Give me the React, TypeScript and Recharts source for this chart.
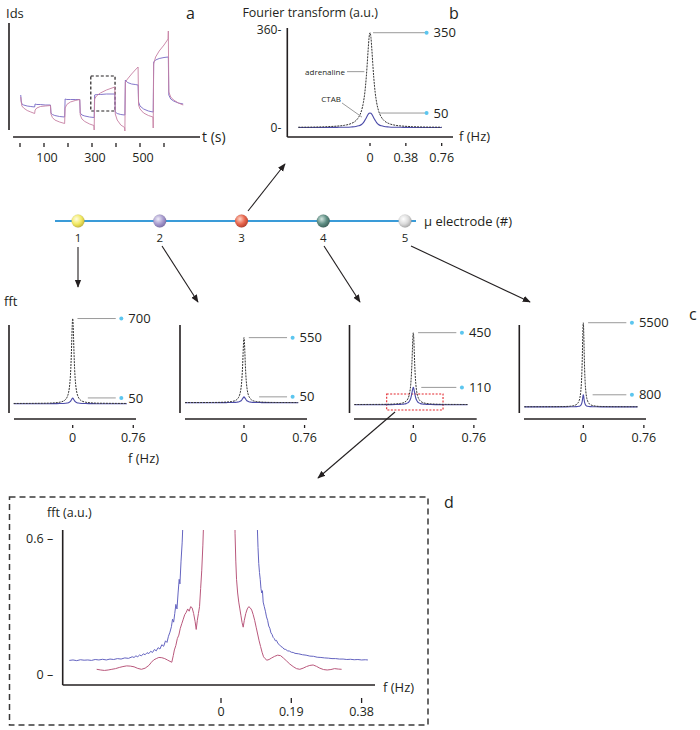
import React from "react";
import {
  LineChart,
  Line,
  XAxis,
  YAxis,
  ReferenceLine,
  ReferenceArea,
  ReferenceDot,
  ScatterChart,
  Scatter,
} from "recharts";

const W = 700;
const H = 730;
const XH = 30;
const YW = 1;
const FONT = "'Open Sans', 'DejaVu Sans', sans-serif";
const INK = "#231f20";
const LEADER = "#9a9a9a";
const DOT = "#5cc6ef";

// ---- panel a: Ids vs time
const A_T = [3, 5, 8, 15, 30, 45, 61, 63, 70, 85, 105, 127, 129, 135, 145, 165, 186, 188, 195, 210, 230, 249, 251, 258, 270, 290, 308, 309, 311, 318, 335, 360, 395, 397, 405, 420, 436, 437, 439, 448, 465, 480, 492, 494, 500, 515, 535, 554, 555, 557, 565, 580, 600, 617, 618, 620, 628, 640, 660, 680];
const A_BLUE = [35, 29, 26, 25, 24, 23.5, 23, 26, 25.5, 25.5, 25, 25, 17, 15.5, 14.5, 13.5, 13, 31, 30.5, 30.5, 30.5, 30.5, 17, 15, 14, 13, 12.5, 12.5, 35, 35.5, 35.5, 36, 36, 18, 16.5, 15.5, 15, 15, 50, 47.5, 46, 45.5, 45, 28, 24, 21, 19, 18, 18, 68, 70, 71.5, 72.5, 73, 73, 35, 31, 29, 27, 26];
const A_RED = [33, 28, 24, 22, 19.5, 18, 16.5, 20, 22, 23.5, 24, 24.5, 16, 12.5, 10, 8, 6.5, 22, 25.5, 28, 29.5, 30.5, 15, 11, 8.5, 6, 4.5, 0, 31, 34, 37, 40, 43, 16, 10, 5, 2.5, -1, 48, 51, 56, 60, 63, 25, 21, 17, 14.5, 13, 2, 66, 73, 79, 85, 91, 99, 38, 33, 30, 27, 25];
const A_TICKS = [0, 100, 200, 300, 400, 500, 600];
const A_TICK_LABELS = ["", "100", "", "300", "", "500", ""];
const A_BOX = { t1: 295, t2: 396, v1: 19, v2: 54 };

// ---- panel b: Fourier transform, electrode 3
const B_F = [-0.76, -0.6, -0.45, -0.35, -0.27, -0.2, -0.15, -0.12, -0.09, -0.07, -0.055, -0.04, -0.03, -0.02, -0.01, -0.005, 0, 0.005, 0.01, 0.02, 0.03, 0.04, 0.055, 0.07, 0.09, 0.12, 0.15, 0.2, 0.27, 0.35, 0.45, 0.6, 0.76];
const B_ADREN = [3, 3.5, 5, 7, 10, 16.5, 27, 40, 64, 94, 130, 185, 233, 286, 332, 345, 350, 345, 332, 286, 233, 185, 130, 94, 64, 40, 27, 16.5, 10, 7, 5, 3.5, 3];
const B_CTAB = [2, 2, 2, 2.5, 3, 4, 5.5, 8, 13, 20, 28, 37, 44, 50, 54, 54.5, 55, 54.5, 54, 50, 44, 37, 28, 20, 13, 8, 5.5, 4, 3, 2.5, 2, 2, 2];
const B_LABELS = ["350", "50"];
const B_YTICKS = [0, 360];
const B_YTICK_LABELS = ["0-", "360-"];
const B_TICKS = [0, 0.38, 0.76];
const B_TICK_LABELS = ["0", "0.38", "0.76"];

// ---- electrodes
const E_N = [1, 2, 3, 4, 5];
const E_LABELS = ["1", "2", "3", "4", "5"];

// ---- panels c: fft per electrode
const C_F = [-0.74, -0.55, -0.4, -0.3, -0.22, -0.16, -0.12, -0.09, -0.07, -0.055, -0.042, -0.032, -0.024, -0.017, -0.011, -0.006, -0.003, 0, 0.003, 0.006, 0.011, 0.017, 0.024, 0.032, 0.042, 0.055, 0.07, 0.09, 0.12, 0.16, 0.22, 0.3, 0.4, 0.55, 0.68];
const C1_BLACK = [4.6, 5, 6, 7, 10, 15, 23, 37, 57, 86, 133, 201, 291, 410, 541, 646, 689, 704, 689, 646, 541, 410, 291, 201, 133, 86, 57, 37, 23, 15, 10, 7, 6, 5, 4.6];
const C1_BLUE = [2, 2, 2, 2.5, 3, 3.5, 4.5, 6, 8, 11, 15, 20, 26, 33, 40, 46, 49, 50, 49, 46, 40, 33, 26, 20, 15, 11, 8, 6, 4.5, 3.5, 3, 2.5, 2, 2, 2];
const C2_BLACK = [3.6, 4, 4.5, 5.5, 8, 12, 18, 29, 45, 68, 105, 158, 229, 322, 425, 508, 541, 553, 541, 508, 425, 322, 229, 158, 105, 68, 45, 29, 18, 12, 8, 5.5, 4.5, 4, 3.6];
const C2_BLUE = [2, 2, 2.5, 3, 3.5, 4, 5, 7, 9, 12, 17, 23, 30, 37, 43, 48, 51, 52, 51, 48, 43, 37, 30, 23, 17, 12, 9, 7, 5, 4, 3.5, 3, 2.5, 2, 2];
const C3_BLACK = [3, 3.5, 4, 5, 7, 10, 15, 24, 37, 56, 86, 130, 188, 264, 348, 415, 442, 452, 442, 415, 348, 264, 188, 130, 86, 56, 37, 24, 15, 10, 7, 5, 4, 3.5, 3];
const C3_BLUE = [2, 2, 2, 2.5, 3, 4, 5.5, 8.5, 13, 20, 30, 42, 58, 76, 92, 103, 108, 110, 108, 103, 92, 76, 58, 42, 30, 20, 13, 8.5, 5.5, 4, 3, 2.5, 2, 2, 2];
const C4_BLACK = [17, 18, 20, 25, 35, 55, 90, 150, 240, 380, 620, 1000, 1560, 2410, 3600, 4760, 5300, 5520, 5300, 4760, 3600, 2410, 1560, 1000, 620, 380, 240, 150, 90, 55, 35, 25, 20, 18, 17];
const C4_BLUE = [10, 10, 10, 10, 11, 13, 16, 22, 30, 45, 70, 110, 180, 290, 450, 650, 760, 800, 760, 650, 450, 290, 180, 110, 70, 45, 30, 22, 16, 13, 11, 10, 10, 10, 10];
const C_LABELS = [["700", "50"], ["550", "50"], ["450", "110"], ["5500", "800"]];
const C_TICKS = [0, 0.76];
const C_TICK_LABELS = ["0", "0.76"];
const C_BOX = { f1: -0.334, f2: 0.373, v1: -31, v2: 69 }; // zoom window on electrode 4

// ---- panel d: zoomed fft
const D_BLUE_F = [-0.41, -0.40, -0.39, -0.38, -0.37, -0.36, -0.35, -0.34, -0.33, -0.32, -0.31, -0.30, -0.29, -0.28, -0.27, -0.26, -0.25, -0.24, -0.235, -0.23, -0.225, -0.22, -0.215, -0.21, -0.205, -0.20, -0.195, -0.19, -0.185, -0.18, -0.175, -0.17, -0.165, -0.16, -0.155, -0.15, -0.146, -0.142, -0.138, -0.134, -0.131, -0.128, -0.125, -0.122, -0.119, -0.116, -0.113, -0.111, -0.108, -0.105, -0.102, -0.099, 0, 0.095, 0.098, 0.100, 0.102, 0.104, 0.106, 0.108, 0.110, 0.112, 0.114, 0.117, 0.120, 0.123, 0.126, 0.129, 0.132, 0.135, 0.138, 0.141, 0.144, 0.147, 0.150, 0.154, 0.158, 0.162, 0.166, 0.170, 0.175, 0.180, 0.185, 0.19, 0.195, 0.20, 0.21, 0.22, 0.23, 0.24, 0.25, 0.26, 0.27, 0.28, 0.29, 0.30, 0.31, 0.32, 0.33, 0.34, 0.35, 0.36, 0.37, 0.38, 0.39, 0.397];
const D_BLUE = [0.064, 0.066, 0.063, 0.067, 0.065, 0.066, 0.064, 0.068, 0.066, 0.069, 0.066, 0.070, 0.068, 0.072, 0.070, 0.075, 0.073, 0.080, 0.077, 0.084, 0.080, 0.088, 0.084, 0.093, 0.089, 0.098, 0.094, 0.104, 0.099, 0.112, 0.106, 0.120, 0.114, 0.133, 0.126, 0.150, 0.143, 0.170, 0.188, 0.212, 0.245, 0.232, 0.27, 0.31, 0.29, 0.36, 0.42, 0.40, 0.50, 0.58, 0.70, 0.88, null, 0.88, 0.66, 0.56, 0.49, 0.45, 0.42, 0.38, 0.36, 0.37, 0.32, 0.30, 0.28, 0.255, 0.24, 0.215, 0.205, 0.185, 0.178, 0.165, 0.16, 0.15, 0.152, 0.138, 0.133, 0.125, 0.122, 0.114, 0.112, 0.106, 0.105, 0.100, 0.099, 0.095, 0.093, 0.089, 0.087, 0.083, 0.082, 0.078, 0.077, 0.075, 0.074, 0.072, 0.072, 0.070, 0.070, 0.068, 0.069, 0.067, 0.068, 0.066, 0.067, 0.066];
const D_RED_F = [-0.336, -0.325, -0.315, -0.305, -0.295, -0.285, -0.275, -0.265, -0.255, -0.245, -0.235, -0.225, -0.215, -0.205, -0.195, -0.188, -0.182, -0.175, -0.168, -0.160, -0.152, -0.145, -0.138, -0.133, -0.129, -0.126, -0.122, -0.118, -0.114, -0.110, -0.106, -0.102, -0.098, -0.094, -0.090, -0.086, -0.082, -0.078, -0.074, -0.070, -0.067, -0.064, -0.061, -0.058, -0.055, -0.052, -0.049, -0.046, -0.044, 0, 0.036, 0.038, 0.040, 0.042, 0.045, 0.048, 0.051, 0.054, 0.057, 0.060, 0.063, 0.067, 0.071, 0.075, 0.079, 0.083, 0.087, 0.091, 0.095, 0.099, 0.103, 0.107, 0.111, 0.115, 0.119, 0.124, 0.130, 0.137, 0.145, 0.153, 0.161, 0.169, 0.177, 0.186, 0.195, 0.204, 0.213, 0.222, 0.231, 0.240, 0.249, 0.258, 0.267, 0.277, 0.287, 0.297, 0.307, 0.317, 0.326];
const D_RED = [0.025, 0.022, 0.020, 0.022, 0.025, 0.028, 0.033, 0.037, 0.040, 0.039, 0.036, 0.029, 0.025, 0.030, 0.042, 0.056, 0.066, 0.072, 0.077, 0.076, 0.072, 0.066, 0.060, 0.056, 0.085, 0.11, 0.13, 0.16, 0.175, 0.205, 0.225, 0.245, 0.265, 0.275, 0.29, 0.28, 0.30, 0.295, 0.27, 0.235, 0.20, 0.24, 0.27, 0.30, 0.38, 0.46, 0.57, 0.72, 0.88, null, 0.88, 0.62, 0.50, 0.42, 0.36, 0.32, 0.29, 0.26, 0.23, 0.21, 0.24, 0.27, 0.29, 0.30, 0.295, 0.285, 0.265, 0.24, 0.21, 0.18, 0.15, 0.125, 0.10, 0.08, 0.072, 0.065, 0.068, 0.075, 0.082, 0.087, 0.085, 0.074, 0.062, 0.048, 0.037, 0.028, 0.025, 0.030, 0.037, 0.042, 0.044, 0.038, 0.030, 0.024, 0.022, 0.024, 0.028, 0.026, 0.025];
const D_TICKS = [0, 0.19, 0.38];
const D_TICK_LABELS = ["0", "0.19", "0.38"];
const D_YTICKS = [0, 0.6];
const D_YTICK_LABELS = ["0 \u2013", "0.6 \u2013"];

// ---- layout (pixels)
const PX_F = 79.7; // px per Hz in the small fft panels
const C_LAYOUT = [
  { yx: 9, zx: 72.7, ax0: 14, ax1: 136, base: 404, ppu: 0.1214, lowStart: 0.19 },
  { yx: 180, zx: 244, ax0: 185, ax1: 307, base: 403, ppu: 0.1182, lowStart: 0.19 },
  { yx: 349.5, zx: 413.3, ax0: 354, ax1: 476.7, base: 405, ppu: 0.16, lowStart: 0.1 },
  { yx: 519.3, zx: 583.3, ax0: 524, ax1: 646, base: 407, ppu: 0.01527, lowStart: 0.117 },
];
const C_SERIES = [
  [C1_BLACK, C1_BLUE],
  [C2_BLACK, C2_BLUE],
  [C3_BLACK, C3_BLUE],
  [C4_BLACK, C4_BLUE],
];
const BEAD_COLORS = [
  ["#fffde2", "#f2ea66", "#c4b536"],
  ["#f1eef9", "#a99dcf", "#7a6da6"],
  ["#ffd6c8", "#e8674e", "#b03d2c"],
  ["#d4e6e0", "#5f8f84", "#3a5e57"],
  ["#ffffff", "#dcdcdc", "#a6a6a6"],
];

// plot rect in page pixels -> chart margins (y axis is YW wide, x axis XH tall)
const margins = (l: number, t: number, r: number, b: number) => ({
  left: l - YW,
  top: t,
  right: W - r,
  bottom: H - b - XH,
});

const Layer = ({ children }: { children: React.ReactNode }) => (
  <div style={{ position: "absolute", left: 0, top: 0 }}>{children}</div>
);

function bottomTick(ticks: number[], labels: string[], gap: number, len: number, dy: number, dx = 0, size = 12.5) {
  return (props: any) => {
    const { x, y, payload } = props;
    const s = labels[ticks.indexOf(payload.value)];
    return (
      <g>
        {len > 0 && <line x1={x} x2={x} y1={y + gap} y2={y + gap + len} stroke={INK} strokeWidth={1.3} />}
        {s ? (
          <text x={x + dx} y={y + dy} textAnchor="middle" fontSize={size} fontFamily={FONT} fill={INK}>
            {s}
          </text>
        ) : null}
      </g>
    );
  };
}

function leftTick(ticks: number[], labels: string[], dx: number, size = 12.5) {
  return (props: any) => {
    const { x, y, payload } = props;
    const s = labels[ticks.indexOf(payload.value)];
    return (
      <text x={x - dx} y={y} dy="0.35em" textAnchor="end" fontSize={size} fontFamily={FONT} fill={INK}>
        {s}
      </text>
    );
  };
}

const valueLabel = (value: string) => ({
  value,
  position: "right" as const,
  offset: 5,
  fill: INK,
  fontSize: 13,
  fontFamily: FONT,
});

const hiddenY = (domain: number[]) => (
  <YAxis type="number" domain={domain} allowDataOverflow width={YW} tick={false} axisLine={false} tickLine={false} />
);

function PanelA() {
  const data = A_T.map((t, i) => ({ t, blue: A_BLUE[i], red: A_RED[i] }));
  const x0 = (9 - 20) / 0.24;
  const x1 = (200 - 20) / 0.24;
  return (
    <Layer>
      <LineChart width={W} height={H} data={data} margin={margins(9, 23, 200, 137)}>
        <XAxis
          dataKey="t"
          type="number"
          domain={[x0, x1]}
          ticks={A_TICKS}
          interval={0}
          axisLine={false}
          tickLine={false}
          tickSize={0}
          tickMargin={0}
          height={XH}
          tick={bottomTick(A_TICKS, A_TICK_LABELS, 6, 4, 25, 3)}
        />
        {hiddenY([-7, 107])}
        <ReferenceLine ifOverflow="visible" segment={[{ x: x0, y: 0 }, { x: x0, y: 107 }]} stroke={INK} strokeWidth={1.6} />
        <ReferenceLine ifOverflow="visible" segment={[{ x: -29, y: -7 }, { x: x1, y: -7 }]} stroke={INK} strokeWidth={1.6} />
        <Line dataKey="blue" type="linear" stroke="#7668c4" strokeWidth={0.9} dot={false} activeDot={false} isAnimationActive={false} />
        <Line dataKey="red" type="linear" stroke="#c67fa3" strokeWidth={0.9} dot={false} activeDot={false} isAnimationActive={false} />
        <ReferenceArea
          x1={A_BOX.t1}
          x2={A_BOX.t2}
          y1={A_BOX.v1}
          y2={A_BOX.v2}
          fill="none"
          fillOpacity={0}
          stroke={INK}
          strokeWidth={1.2}
          strokeDasharray="3 2"
        />
      </LineChart>
    </Layer>
  );
}

function PanelB() {
  const data = B_F.map((f, i) => ({ f, adr: B_ADREN[i], ctab: B_CTAB[i] }));
  const x0 = -0.877;
  const x1 = 0.88;
  const y0 = -33;
  const y1 = 367.3;
  const top = Math.max(...B_ADREN);
  const low = Math.max(...B_CTAB);
  return (
    <Layer>
      <LineChart width={W} height={H} data={data} margin={margins(287.3, 28, 453, 137)}>
        <XAxis
          dataKey="f"
          type="number"
          domain={[x0, x1]}
          ticks={B_TICKS}
          interval={0}
          axisLine={false}
          tickLine={false}
          tickSize={0}
          tickMargin={0}
          height={XH}
          tick={bottomTick(B_TICKS, B_TICK_LABELS, 6, 3, 25)}
        />
        <YAxis
          type="number"
          domain={[y0, y1]}
          width={YW}
          ticks={B_YTICKS}
          interval={0}
          tick={leftTick(B_YTICKS, B_YTICK_LABELS, 6, 12)}
          axisLine={false}
          tickLine={false}
          tickSize={0}
          tickMargin={0}
        />
        <ReferenceLine ifOverflow="visible" segment={[{ x: x0, y: y0 }, { x: x0, y: y1 }]} stroke={INK} strokeWidth={1.6} />
        <ReferenceLine ifOverflow="visible" segment={[{ x: x0, y: y0 }, { x: x1, y: y0 }]} stroke={INK} strokeWidth={1.6} />
        <Line dataKey="ctab" type="monotone" stroke="#4b4ba8" strokeWidth={1.1} dot={false} activeDot={false} isAnimationActive={false} />
        <Line dataKey="adr" type="monotone" stroke="#333" strokeWidth={1} strokeDasharray="2 1" dot={false} activeDot={false} isAnimationActive={false} />
        <ReferenceLine ifOverflow="visible" segment={[{ x: 0.032, y: top }, { x: 0.583, y: top }]} stroke={LEADER} strokeWidth={1} />
        <ReferenceLine ifOverflow="visible" segment={[{ x: 0.106, y: low }, { x: 0.583, y: low }]} stroke={LEADER} strokeWidth={1} />
        <ReferenceLine ifOverflow="visible" segment={[{ x: -0.244, y: 207 }, { x: -0.06, y: 207 }]} stroke={LEADER} strokeWidth={1} />
        <ReferenceLine ifOverflow="visible" segment={[{ x: -0.297, y: 92 }, { x: -0.085, y: 40 }]} stroke={LEADER} strokeWidth={1} />
        <ReferenceDot ifOverflow="visible" x={0.6} y={top} r={2} fill={DOT} stroke="none" label={valueLabel(B_LABELS[0])} />
        <ReferenceDot ifOverflow="visible" x={0.6} y={low} r={2} fill={DOT} stroke="none" label={valueLabel(B_LABELS[1])} />
      </LineChart>
    </Layer>
  );
}

const Bead = (props: any) => {
  const { cx, cy, payload } = props;
  return <circle cx={cx} cy={cy} r={6.5} fill={`url(#bead${payload.n})`} stroke="rgba(0,0,0,0.12)" strokeWidth={0.5} />;
};

function Electrodes() {
  const data = E_N.map((n) => ({ n, y: 0 }));
  const step = 81.75;
  const x0 = 1 - (78 - 40) / step;
  const x1 = 5 + (430 - 405) / step;
  return (
    <Layer>
      <ScatterChart width={W} height={H} margin={margins(40, 211, 430, 231)}>
        <XAxis
          dataKey="n"
          type="number"
          domain={[x0, x1]}
          ticks={E_N}
          interval={0}
          axisLine={false}
          tickLine={false}
          tickSize={0}
          tickMargin={0}
          height={XH}
          tick={bottomTick(E_N, E_LABELS, 0, 0, 11, 0, 11.5)}
        />
        <YAxis dataKey="y" type="number" domain={[-1, 1]} width={YW} tick={false} axisLine={false} tickLine={false} />
        <ReferenceLine
          ifOverflow="visible"
          segment={[{ x: 1 - 23 / step, y: 0 }, { x: 5 + 11 / step, y: 0 }]}
          stroke="#3a9bd8"
          strokeWidth={2}
        />
        <Scatter data={data} shape={<Bead />} isAnimationActive={false} />
      </ScatterChart>
    </Layer>
  );
}

function PanelC({ i }: { i: number }) {
  const L = C_LAYOUT[i];
  const [black, blue] = C_SERIES[i];
  const data = C_F.map((f, k) => ({ f, black: black[k], blue: blue[k] }));
  const x0 = (L.yx - L.zx) / PX_F;
  const x1 = (L.ax1 - L.zx) / PX_F;
  const y0 = (L.base - 419) / L.ppu;
  const y1 = (L.base - 300) / L.ppu;
  const top = Math.max(...black);
  const low = Math.max(...blue);
  return (
    <Layer>
      <LineChart width={W} height={H} data={data} margin={margins(L.yx, 300, L.ax1, 419)}>
        <XAxis
          dataKey="f"
          type="number"
          domain={[x0, x1]}
          ticks={C_TICKS}
          interval={0}
          axisLine={false}
          tickLine={false}
          tickSize={0}
          tickMargin={0}
          height={XH}
          tick={bottomTick(C_TICKS, C_TICK_LABELS, 6, 3, 23)}
        />
        {hiddenY([y0, y1])}
        <ReferenceLine
          ifOverflow="visible"
          segment={[{ x: x0, y: (L.base - 413) / L.ppu }, { x: x0, y: (L.base - 325) / L.ppu }]}
          stroke={INK}
          strokeWidth={1.6}
        />
        <ReferenceLine
          ifOverflow="visible"
          segment={[{ x: (L.ax0 - L.zx) / PX_F, y: y0 }, { x: x1, y: y0 }]}
          stroke={INK}
          strokeWidth={1.6}
        />
        <Line dataKey="blue" type="monotone" stroke="#4b4ba8" strokeWidth={1.1} dot={false} activeDot={false} isAnimationActive={false} />
        <Line dataKey="black" type="monotone" stroke="#333" strokeWidth={1} strokeDasharray="2 1" dot={false} activeDot={false} isAnimationActive={false} />
        <ReferenceLine ifOverflow="visible" segment={[{ x: 0.06, y: top }, { x: 0.54, y: top }]} stroke={LEADER} strokeWidth={1} />
        <ReferenceLine ifOverflow="visible" segment={[{ x: L.lowStart, y: low }, { x: 0.54, y: low }]} stroke={LEADER} strokeWidth={1} />
        <ReferenceDot ifOverflow="visible" x={0.61} y={top} r={2} fill={DOT} stroke="none" label={valueLabel(C_LABELS[i][0])} />
        <ReferenceDot ifOverflow="visible" x={0.61} y={low} r={2} fill={DOT} stroke="none" label={valueLabel(C_LABELS[i][1])} />
        {i === 2 && (
          <ReferenceArea
            ifOverflow="visible"
            x1={C_BOX.f1}
            x2={C_BOX.f2}
            y1={C_BOX.v1}
            y2={C_BOX.v2}
            fill="none"
            fillOpacity={0}
            stroke="#e3262d"
            strokeWidth={1.1}
            strokeDasharray="2 1.5"
          />
        )}
      </LineChart>
    </Layer>
  );
}

function PanelD() {
  const blue = D_BLUE_F.map((f, i) => ({ f, v: D_BLUE[i] }));
  const red = D_RED_F.map((f, i) => ({ f, v: D_RED[i] }));
  const x0 = (62.7 - 221) / 370;
  const x1 = (375 - 221) / 370;
  const y0 = (675 - 685) / 227.8;
  const y1 = (675 - 530) / 227.8;
  return (
    <Layer>
      <LineChart width={W} height={H} margin={margins(62.7, 530, 375, 685)}>
        <XAxis
          dataKey="f"
          type="number"
          domain={[x0, x1]}
          allowDataOverflow
          ticks={D_TICKS}
          interval={0}
          axisLine={false}
          tickLine={false}
          tickSize={0}
          tickMargin={0}
          height={XH}
          tick={bottomTick(D_TICKS, D_TICK_LABELS, 13, 5, 31)}
        />
        <YAxis
          type="number"
          domain={[y0, y1]}
          allowDataOverflow
          width={YW}
          ticks={D_YTICKS}
          interval={0}
          tick={leftTick(D_YTICKS, D_YTICK_LABELS, 9.5, 12.5)}
          axisLine={false}
          tickLine={false}
          tickSize={0}
          tickMargin={0}
        />
        <ReferenceLine ifOverflow="visible" segment={[{ x: x0, y: y0 }, { x: x0, y: y1 }]} stroke={INK} strokeWidth={1.6} />
        <ReferenceLine ifOverflow="visible" segment={[{ x: x0, y: y0 }, { x: x1, y: y0 }]} stroke={INK} strokeWidth={1.6} />
        <Line data={blue} dataKey="v" type="linear" stroke="#6464c0" strokeWidth={1} dot={false} activeDot={false} connectNulls={false} isAnimationActive={false} />
        <Line data={red} dataKey="v" type="linear" stroke="#b9587c" strokeWidth={1} dot={false} activeDot={false} connectNulls={false} isAnimationActive={false} />
      </LineChart>
    </Layer>
  );
}

const T = (p: { x: number; y: number; s?: number; a?: "start" | "middle" | "end"; children: React.ReactNode }) => (
  <text x={p.x} y={p.y} fontSize={p.s ?? 13} textAnchor={p.a ?? "start"} fontFamily={FONT} fill={INK}>
    {p.children}
  </text>
);

function Overlay() {
  const arrows = [
    [248, 211, 285, 164],
    [78, 247, 78, 287],
    [162, 246, 198, 302],
    [324, 246, 360, 302],
    [411, 246, 530, 302],
    [395, 412, 318, 478],
  ];
  return (
    <svg width={W} height={H} style={{ position: "absolute", left: 0, top: 0 }}>
      <defs>
        <marker id="ah" viewBox="0 0 10 10" refX="9" refY="5" markerWidth="8" markerHeight="8" markerUnits="userSpaceOnUse" orient="auto">
          <path d="M0,1 L10,5 L0,9 z" fill={INK} />
        </marker>
        {BEAD_COLORS.map((c, i) => (
          <radialGradient key={i} id={`bead${i + 1}`} cx="38%" cy="35%" r="70%">
            <stop offset="0%" stopColor={c[0]} />
            <stop offset="55%" stopColor={c[1]} />
            <stop offset="100%" stopColor={c[2]} />
          </radialGradient>
        ))}
      </defs>
      {arrows.map(([x1, y1, x2, y2], i) => (
        <line key={i} x1={x1} y1={y1} x2={x2} y2={y2} stroke={INK} strokeWidth={1.1} markerEnd="url(#ah)" />
      ))}
      <rect x={9.5} y={497} width={418.5} height={228} fill="none" stroke="#3a3a3a" strokeWidth={1.5} strokeDasharray="6 4" />

      <T x={6} y={18}>Ids</T>
      <T x={186} y={19} s={16}>a</T>
      <T x={202} y={142} s={14}>t (s)</T>

      <T x={378} y={17} s={12.5} a="end">Fourier transform (a.u.)</T>
      <T x={449} y={19} s={16}>b</T>
      <T x={459} y={141}>f (Hz)</T>
      <T x={345} y={74.5} s={8} a="end">adrenaline</T>
      <T x={341} y={101.5} s={8} a="end">CTAB</T>

      <T x={424} y={225.5}>μ electrode (#)</T>

      <T x={4} y={306}>fft</T>
      <T x={128} y={463}>f (Hz)</T>
      <T x={689} y={320} s={16}>c</T>

      <T x={444} y={508} s={16}>d</T>
      <T x={47} y={517} s={12.5}>fft (a.u.)</T>
      <T x={383} y={692}>f (Hz)</T>
    </svg>
  );
}

export default function App() {
  return (
    <div style={{ position: "absolute", left: 0, top: 0, width: W, height: H, background: "#fff", overflow: "hidden" }}>
      <PanelA />
      <PanelB />
      <Electrodes />
      {C_LAYOUT.map((_, i) => (
        <PanelC key={i} i={i} />
      ))}
      <PanelD />
      <Overlay />
    </div>
  );
}
